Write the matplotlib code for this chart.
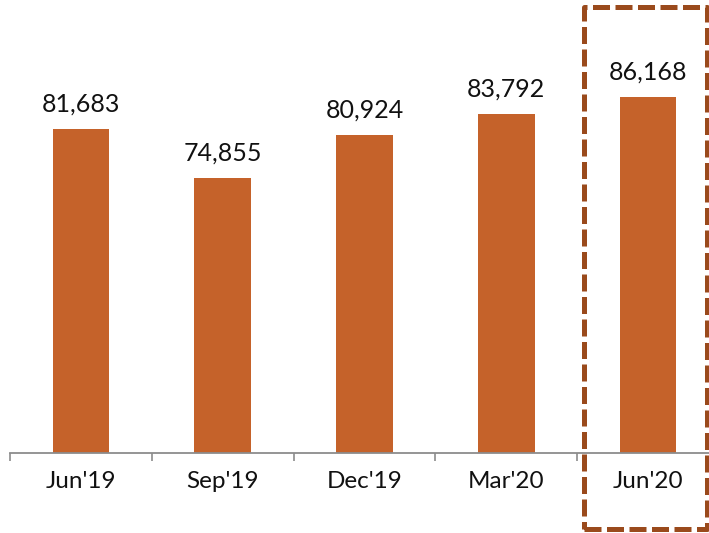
import matplotlib
matplotlib.use('Agg')
import matplotlib.pyplot as plt
from matplotlib.patches import Rectangle
import numpy as np

quarters = ["Jun'19", "Sep'19", "Dec'19", "Mar'20", "Jun'20"]
values = [81683, 74855, 80924, 83792, 86168]

BAR_COLOR = '#C5622A'
BOX_COLOR = '#9A4A1C'
AXIS_COLOR = '#8C8C8C'

plt.rcParams['font.family'] = ['Lato', 'DejaVu Sans']

fig = plt.figure(figsize=(7.09, 5.33), dpi=100)
ax = fig.add_axes([10 / 709, 80 / 533, 1.0, 453 / 533])

x = np.arange(len(quarters))
bars = ax.bar(x, values, width=0.40, color=BAR_COLOR, zorder=2)

for bar, v in zip(bars, values):
    ax.annotate(f'{v:,}', (bar.get_x() + bar.get_width() / 2, bar.get_height()),
                xytext=(0, 12.5), textcoords='offset points',
                ha='center', va='baseline', fontsize=18, color='#111111')

ax.set_xlim(-0.5, len(quarters) - 0.5)
ax.set_ylim(36300, 99800)

ax.set_xticks(x)
ax.set_xticklabels(quarters, fontsize=17.5, color='#111111')
ax.tick_params(axis='x', which='major', length=0, pad=13)
ax.set_xticks(np.arange(len(quarters) + 1) - 0.5, minor=True)
ax.tick_params(axis='x', which='minor', length=6, width=1.2, color=AXIS_COLOR, direction='out')
ax.set_yticks([])

for side in ['left', 'right', 'top']:
    ax.spines[side].set_visible(False)
ax.spines['bottom'].set_color(AXIS_COLOR)
ax.spines['bottom'].set_linewidth(1.3)

# dashed highlight box around the latest quarter
box = Rectangle((584 / 709, 4 / 533), 123 / 709, 522 / 533,
                transform=fig.transFigure, fill=False, edgecolor=BOX_COLOR,
                linewidth=3.6, linestyle=(0, (3.4, 1.1)), joinstyle='round',
                clip_on=False)
fig.add_artist(box)

fig.savefig('out.png', dpi=100)
plt.close(fig)
